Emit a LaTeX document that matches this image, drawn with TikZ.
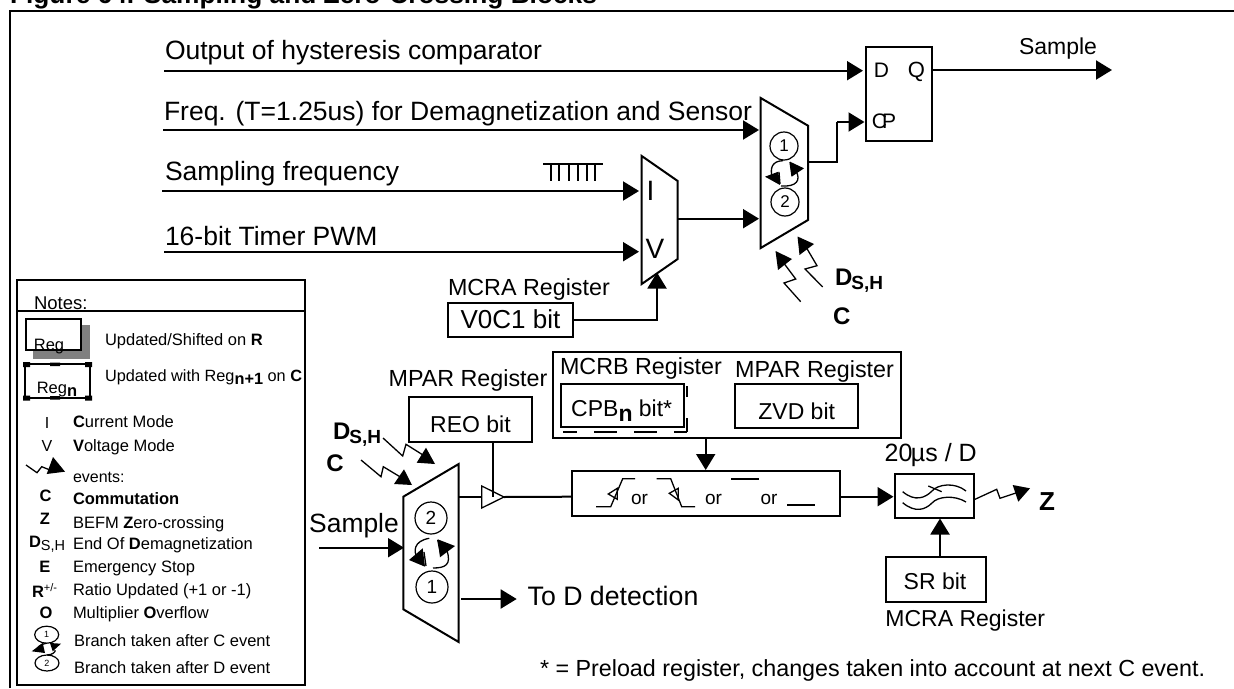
\documentclass[tikz,border=0pt]{standalone}
\usepackage{fontspec}
\setmainfont{Liberation Sans}
\usetikzlibrary{arrows.meta,fit,calc,shapes.geometric}
\newcommand{\fs}[1]{\fontsize{#1pt}{#1pt}\selectfont}
% name, at, size, text
\newcommand{\tl}[4]{\node[lblw] (#1) at (#2) {\fs{#3}#4};}
\newcommand{\tc}[4]{\node[lblc] (#1) at (#2) {\fs{#3}#4};}
\newcommand{\bx}[5]{\node[boxn,fit={(#2,#3)(#4,#5)}] (#1) {};}
\newcommand{\headn}[3]{\fill #1 -- #2 -- #3 -- cycle;}
\newcommand{\dsh}[2]{\textbf{\fs{#1}D\raisebox{-4pt}{\kern-1pt\fs{#2}S,H}}}
\tikzset{
 lblw/.style={anchor=base west,inner sep=0pt,outer sep=0pt},
 lblc/.style={anchor=base,inner sep=0pt,outer sep=0pt},
 boxn/.style={draw,line width=2pt,inner sep=0pt,outer sep=0pt},
 wire/.style={line width=2pt},
 thinw/.style={line width=1.3pt},
 arr/.style={line width=2pt,-{Triangle[length=16pt,width=19pt]}},
 circ/.style={draw,line width=1.2pt,circle,inner sep=0pt,outer sep=0pt},
 elli/.style={draw,line width=1.2pt,ellipse,inner sep=0pt,outer sep=0pt}
}
\begin{document}
\begin{tikzpicture}[x=1pt,y=-1pt]
\useasboundingbox (0,0) rectangle (1234,688);
% title
\tl{title}{10,4}{26.3}{\textbf{Figure 64. Sampling and Zero-Crossing Blocks}}
% outer frame
\draw[line width=2.2pt] (10,688) -- (10,11) -- (1234,11);
% top inputs
\tl{t1}{165,59}{26.5}{Output of hysteresis comparator}
\tl{t2}{164,120}{26.5}{Freq. (T=1.25us) for Demagnetization and Sensor}
\tl{t3}{165,180}{26.5}{Sampling frequency}
\tl{t4}{165,245}{26.5}{16-bit Timer PWM}
\coordinate (i1) at (164,70.7);
\coordinate (i2) at (163,130);
\coordinate (i3) at (162,191);
\coordinate (i4) at (164,251.7);
% flip-flop
\bx{ff}{866}{47}{932}{141}
\coordinate (ffD) at (863,70.7);
\coordinate (ffQ) at (932,70);
\tc{ffd}{881.5,77}{21}{D}
\tc{ffq}{916.5,77}{22}{Q}
\tc{ffc}{884,128.5}{21}{C\kern-5pt P}
\draw[arr] (i1) -- (ffD);
\coordinate (sampOut) at (1112,70);
\draw[arr] (ffQ) -- (sampOut);
\tc{samp1}{1058,54}{23}{Sample}
% comb
\draw[thinw] (543,164) -- (603,164)
  (551,164)--(551,181) (559,164)--(559,181) (569,164)--(569,181)
  (578,164)--(578,181) (587,164)--(587,181) (595,164)--(595,181);
% mux I/V
\draw[wire] (641.7,156) -- (677.7,181) -- (677.7,259) -- (641.7,284) -- cycle;
\coordinate (mI) at (639,191);
\coordinate (mV) at (639,251.7);
\coordinate (mS) at (657,272.5);
\coordinate (mO) at (677.7,218.7);
\tc{muxI}{650.5,200}{28}{I}
\tc{muxV}{655,258}{28}{V}
\draw[arr] (i3) -- (mI);
\draw[arr] (i4) -- (mV);
% V0C1
\tl{mcra1}{448,295}{23.3}{MCRA Register}
\bx{voc}{448}{303}{573}{337}
\tc{voct}{510.5,328}{26}{V0C1 bit}
\draw[arr] (voc.east) -| (mS);
% mux 2
\draw[wire] (760.7,98) -- (808,125.7) -- (808,220) -- (760.7,248) -- cycle;
\coordinate (n2) at (759,130);
\coordinate (nV) at (759,218.7);
\coordinate (nO) at (808,162);
\coordinate (nO2) at (837,122);
\coordinate (ffCi) at (864.5,122);
\draw[arr] (i2) -- (n2);
\draw[arr] (mO) -- (nV);
\draw[wire] (nO) -| (nO2);
\draw[arr] (nO2) -- (ffCi);
\node[circ,minimum size=28pt] (c1a) at (784,146) {\fs{17}1};
\node[circ,minimum size=28pt] (c2a) at (785,202) {\fs{17}2};
\draw[thinw] (783,160.7) .. controls (772,161) and (770,168) .. (772,177);
\draw[thinw] (796,171) .. controls (801,180) and (797,187) .. (781,186);
\draw[thinw] (779,172) -- (780,184);
\draw[thinw] (790,162) -- (792,176);
\headn{(765,176.7)}{(780,185)}{(778.3,171.7)}
\headn{(790,161.7)}{(804,168.3)}{(791.7,176.7)}
% bolts near mux 2
\draw[thinw] (822.7,287) -- (805,269) -- (817,265.7) -- (806,247);
\headn{(797.5,236.5)}{(814,244)}{(799.5,255)}
\draw[thinw] (800.7,301.7) -- (784,283) -- (795.7,279) -- (783,262);
\headn{(775.5,251)}{(792,259)}{(778,270)}
\tl{dsh1}{835,285}{24}{\dsh{24}{19}}
\tl{c1}{833,324}{24}{\textbf{C}}
% lower left mux
\draw[wire] (403.3,496.7) -- (458.7,464) -- (458.7,642) -- (403.3,609.3) -- cycle;
\coordinate (pI) at (404,547.7);
\coordinate (pIs) at (319,547.7);
\coordinate (pO) at (461,599);
\coordinate (pD) at (516.7,599);
\coordinate (pR) at (458.7,497);
\draw[arr] (pIs) -- (pI);
\draw[arr] (pO) -- (pD);
\tc{samp2}{354,532.7}{26.4}{Sample}
\tl{tod}{527.7,605}{26.7}{To D detection}
\node[circ,minimum size=32pt] (c2b) at (431,518) {\fs{19}2};
\node[circ,minimum size=32pt] (c1b) at (432,587) {\fs{19}1};
\draw[thinw] (429.3,538.3) .. controls (413,541) and (414,552) .. (416.7,556.7);
\draw[thinw] (446.7,550) .. controls (452,565) and (445,568) .. (433,568);
\draw[thinw] (424,552) -- (426,566);
\draw[thinw] (437.7,540) -- (441,556);
\headn{(409,560)}{(425,566.7)}{(422.7,548.3)}
\headn{(437.7,539.3)}{(455,546)}{(440,557.3)}
% bolts near lower mux
\draw[thinw] (383,438) -- (402.7,456) -- (406,444.3) -- (423,455);
\headn{(426,447.7)}{(435,464)}{(416.7,462.7)}
\draw[thinw] (361,460) -- (381,476.7) -- (383.3,466.7) -- (402,478);
\headn{(404,469.3)}{(412,485)}{(394,484)}
\tl{dsh2}{333,439}{24}{\dsh{24}{19}}
\tc{c2}{335,471}{24}{\textbf{C}}
% REO
\tc{mpar1}{468,386}{23.3}{MPAR Register}
\bx{reo}{409}{397}{532}{442}
\tc{reot}{470.5,432}{23}{REO bit}
\coordinate (tri) at (504,497);
\coordinate (triT) at (492.7,497);
\draw[wire] (pR) -- (481.7,497);
\draw[line width=1.3pt,fill=white] (481.7,486) -- (504,497) -- (481.7,508) -- cycle;
\draw[wire] (reo.south -| triT) -- (triT);
% register group
\bx{grp}{552.7}{352}{901}{438}
\tc{mcrb}{641,374}{23.3}{MCRB Register}
\tc{mpar2}{814.5,377}{23.3}{MPAR Register}
\draw[wire] (563,431.7) -- (576.7,431.7) (594,431.7) -- (616.7,431.7) (634,431.7) -- (656.7,431.7) (674,431.7) -- (686.7,431.7);
\draw[wire] (686.7,386) -- (686.7,397) (686.7,418) -- (686.7,431.7);
\bx{cpb}{561}{383.5}{684}{427}
\tc{cpbt}{621.7,416.7}{23}{CPB\raisebox{-5pt}{\textbf{n}} bit*}
\bx{zvd}{735}{383.5}{858}{428}
\tc{zvdt}{796.7,419.3}{23}{ZVD bit}
% edge selection box
\bx{edge}{571.7}{471}{840}{515.7}
\coordinate (edgeT) at (705.7,470);
\coordinate (edgeL) at (571.7,496.7);
\coordinate (edgeR) at (840,496.7);
\draw[arr] (grp.south -| edgeT) -- (edgeT);
\draw[wire] (tri) -- (edgeL);
\draw[thinw] (596,506.7) -- (610.7,506.7) -- (622.7,478.7) -- (635,478.7);
\draw[thinw] (608.3,494) -- (617.3,488.3) -- (617.3,499.3) -- cycle;
\draw[thinw] (656.7,478.7) -- (670.7,478.7) -- (681.7,506.7) -- (695,506.7);
\draw[thinw] (678.3,488.3) -- (678.3,500) -- (669.3,493.3) -- cycle;
\draw[wire] (731,478.7) -- (759,478.7);
\draw[wire] (787.3,505) -- (815,505);
\tc{or1}{639.5,504}{19}{or}
\tc{or2}{713.5,504}{19}{or}
\tc{or3}{769,504}{19}{or}
% filter
\bx{flt}{894.7}{474}{974.3}{517.7}
\coordinate (fltL) at (893.5,496.7);
\coordinate (fltB) at (940,518.5);
\coordinate (fltR) at (975,499.3);
\draw[arr] (edgeR) -- (fltL);
\tc{us}{930.7,461.7}{25}{20\kern-1.5ptµs / D}
\draw[thinw] (902.7,491.7) .. controls (915,502) and (925,498) .. (932,491)
  .. controls (938,484) and (955,482) .. (966,491);
\draw[thinw] (902.7,502.7) .. controls (915,513) and (925,510) .. (932,503)
  .. controls (938,496) and (955,495) .. (966,502);
\draw[thinw] (928.3,486) -- (941.7,491.7);
\draw[thinw] (fltR) -- (996.7,489.3) -- (1000,498.3) -- (1016.7,492.7);
\headn{(1030,488.3)}{(1012.7,485)}{(1018.3,501.7)}
\tc{z1}{1047,510}{26}{\textbf{Z}}
\bx{sr}{885.7}{557}{986}{602.3}
\tc{srt}{935,589}{23}{SR bit}
\draw[arr] (sr.north -| fltB) -- (fltB);
\tc{mcra2}{965.3,626}{23}{MCRA Register}
\tl{note}{540,676}{23.3}{* = Preload register, changes taken into account at next C event.}
% legend
\bx{leg}{17.3}{280}{305}{684.7}
\coordinate (legL) at (17.3,310.7);
\draw[wire] (legL) -- (legL -| leg.east);
\tl{notes}{34,309}{18.5}{Notes:}
\fill[black!50] (33,325) rectangle (90,358.5);
\node[boxn,fit={(26,319)(81,350)},fill=white] (rg) {};
\tc{rgt}{49,350}{16.5}{Reg}
\draw[line width=1.5pt] (25,364) rectangle (90,398);
\fill (23,362) rectangle (30,367) (85,362) rectangle (92,367) (23,395.5) rectangle (30,400.5) (85,395.5) rectangle (92,400.5)
  (50,362.5) rectangle (60,366) (50,396) rectangle (60,399.5);
\tc{rnt}{57,393}{16.5}{Reg\raisebox{-3pt}{\textbf{n}}}
\tl{l1}{105,345}{16.5}{Updated/Shifted on \textbf{R}}
\tl{l2}{105,381.7}{16.3}{Updated with Reg\raisebox{-3pt}{\textbf{n+1}} on \textbf{C}}
\tc{k1}{47,428}{16}{I}
\tl{l3}{73,427.7}{16.5}{\textbf{C}urrent Mode}
\tc{k2}{47,451}{16}{V}
\tl{l4}{73,451}{16.5}{\textbf{V}oltage Mode}
\draw[thinw] (26,465) -- (37,472.7) -- (41.7,466.7) -- (50,470);
\headn{(53,457)}{(65,471.7)}{(46.7,474)}
\tl{l5}{73,482.3}{16}{events:}
\tc{k3}{45.7,501}{16.5}{\textbf{C}}
\tl{l6}{73,504.7}{16.5}{\textbf{Commutation}}
\tc{k4}{45,524}{16.5}{\textbf{Z}}
\tl{l7}{73,528.7}{16.5}{BEFM \textbf{Z}ero-crossing}
\tl{k5}{29,547}{16.5}{\textbf{D}\raisebox{-3pt}{\fs{14.5}S,H}}
\tl{l8}{73,549.7}{16.5}{End Of \textbf{D}emagnetization}
\tc{k6}{45,572}{16.5}{\textbf{E}}
\tl{l9}{73,572}{16.5}{Emergency Stop}
\tl{k7}{32,597}{16.5}{\textbf{R}\raisebox{6pt}{\fs{11}+/-}}
\tl{l10}{73,595}{16.5}{Ratio Updated (+1 or -1)}
\tc{k8}{46,618}{16.5}{\textbf{O}}
\tl{l11}{73,618}{16.5}{Multiplier \textbf{O}verflow}
\node[elli,minimum width=24pt,minimum height=17pt] (e1) at (46.7,634.7) {\fs{9}1};
\node[elli,minimum width=24pt,minimum height=16pt] (e2) at (47,663) {\fs{9}2};
\draw[thinw] (e1.south) .. controls (38,645) and (37,648) .. (38,650);
\draw[thinw] (55,650) .. controls (56,652) and (52,655) .. (e2.north);
\headn{(31.7,651.3)}{(45,653)}{(42.7,643)}
\headn{(50,643)}{(61,643.7)}{(52.7,651.3)}
\tl{l12}{74,646}{16.5}{Branch taken after C event}
\tl{l13}{74,673.7}{16.5}{Branch taken after D event}
\end{tikzpicture}
\end{document}
